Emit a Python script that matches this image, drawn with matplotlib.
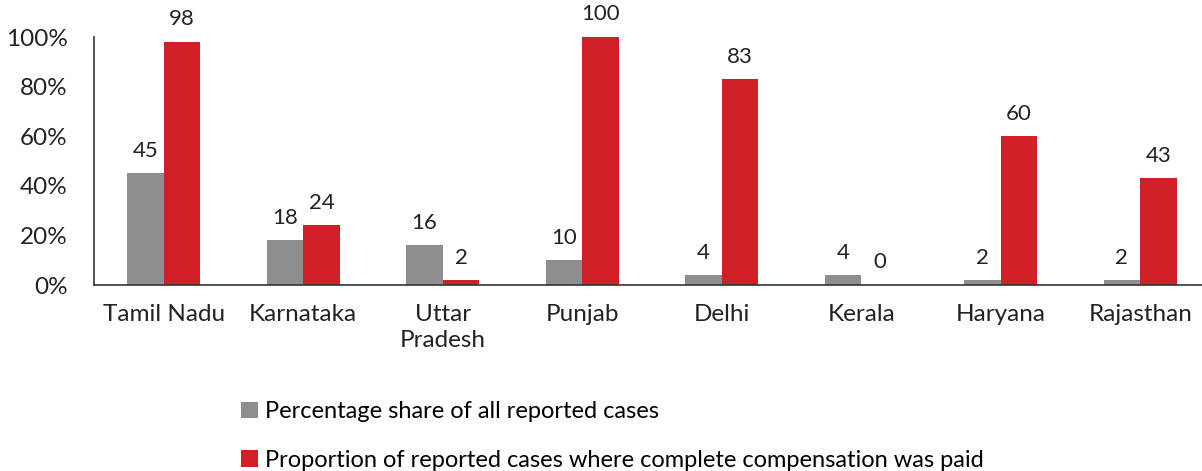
import matplotlib.pyplot as plt
import numpy as np

states = ["Tamil Nadu", "Karnataka", "Uttar\nPradesh", "Punjab", "Delhi", "Kerala", "Haryana", "Rajasthan"]
share = [45, 18, 16, 10, 4, 4, 2, 2]
paid = [98, 24, 2, 100, 83, 0, 60, 43]
labels = ["Percentage share of all reported cases",
          "Proportion of reported cases where complete compensation was paid"]

gray = "#8d8e90"
red = "#d02027"

plt.rcParams['font.family'] = ['Lato', 'DejaVu Sans']

fig = plt.figure(figsize=(12.02, 4.71), dpi=100)
ax = fig.add_axes([94 / 1202, 186 / 471, 1116 / 1202, 248 / 471])

x = np.arange(len(states))
w = 0.263
b1 = ax.bar(x - w / 2, share, w, color=gray, label=labels[0])
b2 = ax.bar(x + w / 2, paid, w, color=red, label=labels[1])

for bars, vals in ((b1, share), (b2, paid)):
    for r, v in zip(bars, vals):
        ax.annotate(str(v), (r.get_x() + r.get_width() / 2, v), xytext=(0, 9),
                    textcoords="offset points", ha="center", va="bottom",
                    fontsize=16, color="#222222", annotation_clip=False)

ax.set_xlim(-0.5, len(states) - 0.5)
ax.set_ylim(0, 100)
ax.set_yticks(range(0, 101, 20))
ax.set_yticklabels([f"{t}%" for t in range(0, 101, 20)])
ax.set_xticks(x)
ax.set_xticklabels(states, linespacing=1.25)
ax.tick_params(axis="both", length=0, labelsize=17.5, colors="#222222")
ax.tick_params(axis="y", pad=19)
ax.tick_params(axis="x", pad=14)
for s in ("top", "right"):
    ax.spines[s].set_visible(False)
for s in ("left", "bottom"):
    ax.spines[s].set_color("#333333")
    ax.spines[s].set_linewidth(1.2)

fig.legend(handles=[b1, b2], loc="upper left", bbox_to_anchor=(232 / 1202, 1 - 392 / 471),
           frameon=False, fontsize=17, handlelength=0.7, handleheight=0.7,
           handletextpad=0.3, labelspacing=1.15, borderaxespad=0)

fig.savefig("out.png", dpi=100)
